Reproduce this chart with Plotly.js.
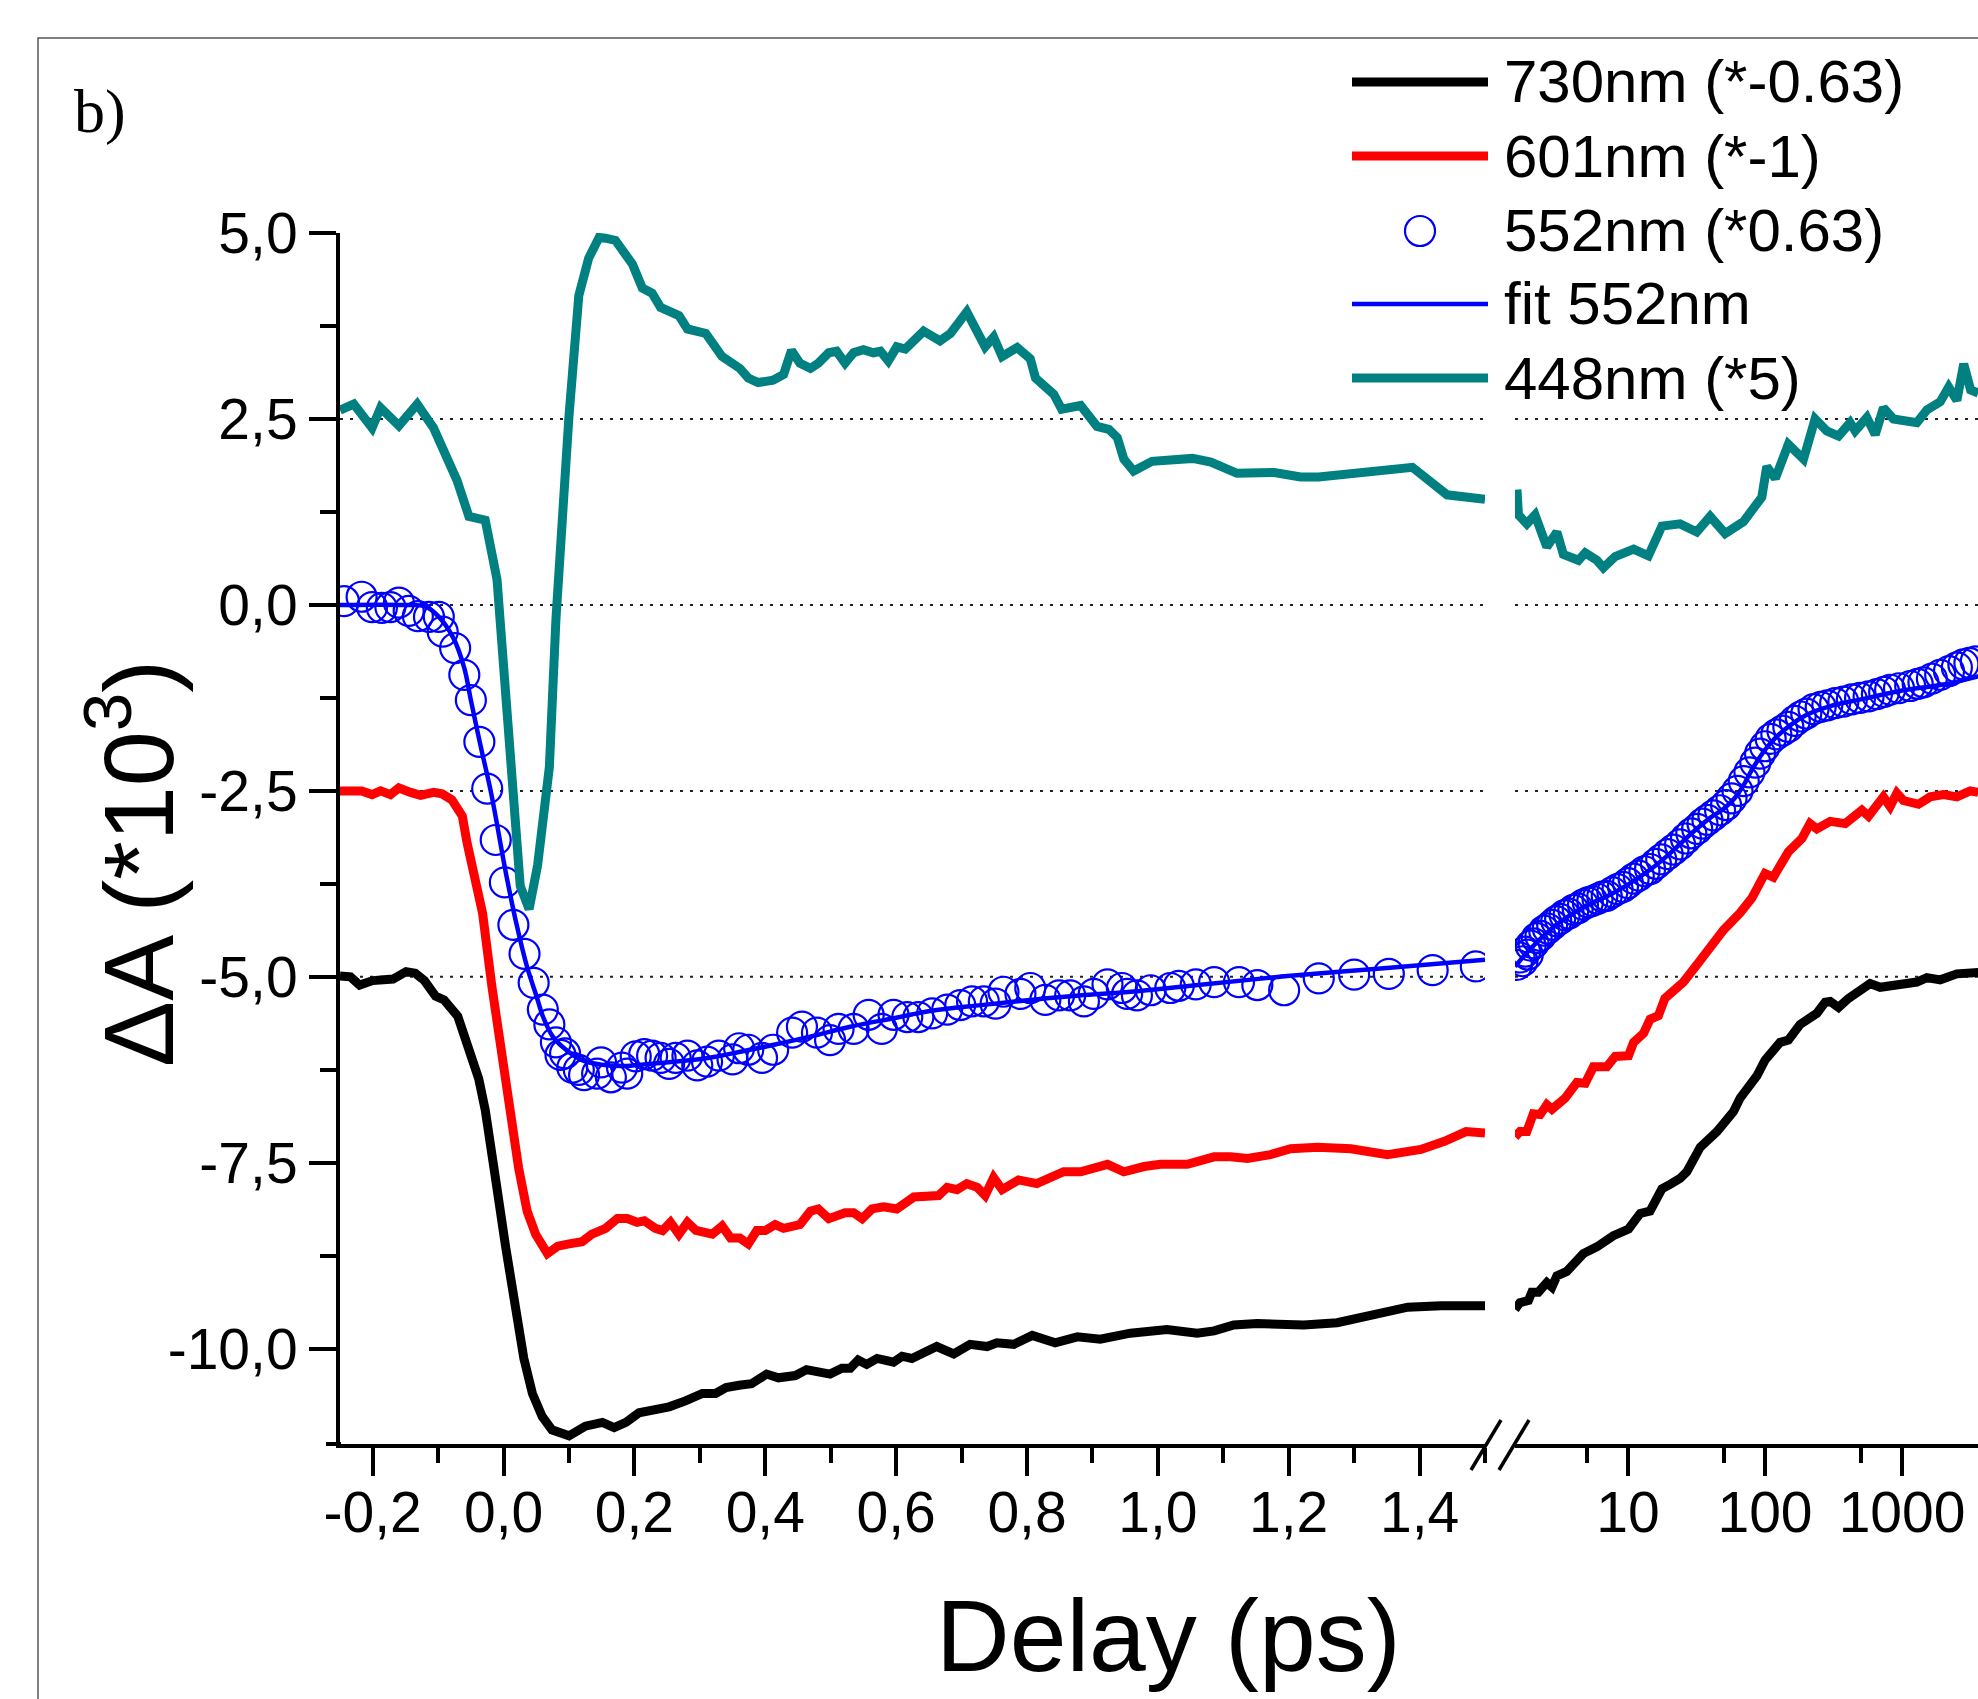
<!DOCTYPE html>
<html><head><meta charset="utf-8">
<script src="https://cdn.plot.ly/plotly-3.0.1.min.js"></script>
<style>html,body{margin:0;padding:0;overflow:hidden;background:#fff}</style>
</head><body><div id="chart" style="width:1978px;height:1699px"></div>
<script>
// ---------- data (delay in ps, dA*10^3) ----------
// 730nm (*-0.63)
const t730Lin = [-0.25,-0.234,-0.220,-0.200,-0.169,-0.149,-0.135,-0.121,-0.104,-0.091,-0.070,-0.058,-0.050,-0.038,-0.028,-0.019,-0.012,0.003,0.018,0.031,0.044,0.059,0.074,0.100,0.125,0.151,0.169,0.187,0.207,0.227,0.253,0.278,0.304,0.324,0.340,0.360,0.379,0.402,0.420,0.446,0.463,0.499,0.517,0.530,0.542,0.555,0.571,0.596,0.609,0.624,0.662,0.688,0.713,0.739,0.754,0.780,0.808,0.843,0.877,0.912,0.958,1.014,1.060,1.086,1.116,1.152,1.223,1.274,1.330,1.382,1.433,1.50];
const v730Lin = [-4.99,-5.00,-5.11,-5.05,-5.03,-4.93,-4.95,-5.05,-5.26,-5.31,-5.53,-5.85,-5.98,-6.37,-6.79,-7.25,-7.73,-8.62,-9.40,-10.13,-10.60,-10.91,-11.09,-11.17,-11.04,-10.99,-11.06,-10.99,-10.86,-10.83,-10.78,-10.70,-10.60,-10.60,-10.52,-10.49,-10.47,-10.34,-10.39,-10.36,-10.28,-10.34,-10.26,-10.26,-10.15,-10.21,-10.13,-10.18,-10.10,-10.13,-9.97,-10.07,-9.94,-9.97,-9.92,-9.94,-9.82,-9.92,-9.84,-9.87,-9.79,-9.74,-9.79,-9.76,-9.68,-9.66,-9.68,-9.65,-9.55,-9.44,-9.42,-9.42];
const t730Log = [1.50,1.63,1.88,1.99,2.22,2.56,2.79,3.03,3.58,4.73,5.93,7.83,10.1,12.3,14.5,17.7,20.3,24.0,26.9,33.7,44.6,52.7,58.9,65.9,87.3,100,112,129,148,180,239,275,299,344,406,585,692,818,1282,1517,1897,2512,3162,3597];
const v730Log = [-9.47,-9.38,-9.35,-9.24,-9.24,-9.11,-9.17,-9.02,-8.96,-8.72,-8.63,-8.48,-8.39,-8.18,-8.15,-7.85,-7.79,-7.71,-7.62,-7.29,-7.08,-6.93,-6.81,-6.63,-6.33,-6.12,-6.03,-5.88,-5.85,-5.64,-5.49,-5.34,-5.33,-5.41,-5.29,-5.09,-5.14,-5.12,-5.07,-5.01,-5.04,-4.96,-4.96,-4.94];

// 601nm (*-1)
const t601Lin = [-0.25,-0.217,-0.201,-0.188,-0.173,-0.160,-0.142,-0.127,-0.107,-0.094,-0.079,-0.063,-0.056,-0.043,-0.032,-0.018,-0.005,0.008,0.023,0.036,0.049,0.067,0.083,0.100,0.120,0.135,0.156,0.174,0.189,0.204,0.215,0.232,0.243,0.255,0.268,0.281,0.294,0.319,0.334,0.347,0.361,0.374,0.387,0.400,0.415,0.428,0.453,0.469,0.481,0.497,0.522,0.535,0.548,0.563,0.581,0.601,0.627,0.665,0.678,0.693,0.708,0.724,0.736,0.749,0.762,0.787,0.815,0.856,0.882,0.923,0.948,0.979,1.004,1.045,1.086,1.111,1.137,1.172,1.203,1.244,1.295,1.351,1.402,1.438,1.471,1.50];
const v601Lin = [-2.50,-2.50,-2.55,-2.50,-2.55,-2.46,-2.52,-2.56,-2.52,-2.54,-2.62,-2.84,-3.19,-3.72,-4.15,-5.12,-5.90,-6.79,-7.57,-8.15,-8.46,-8.72,-8.62,-8.59,-8.56,-8.46,-8.38,-8.25,-8.25,-8.30,-8.28,-8.38,-8.41,-8.30,-8.46,-8.30,-8.41,-8.46,-8.35,-8.51,-8.51,-8.59,-8.41,-8.41,-8.33,-8.38,-8.33,-8.15,-8.12,-8.25,-8.17,-8.17,-8.25,-8.12,-8.09,-8.12,-7.96,-7.94,-7.83,-7.86,-7.78,-7.83,-7.94,-7.70,-7.86,-7.73,-7.78,-7.62,-7.62,-7.52,-7.62,-7.55,-7.52,-7.52,-7.42,-7.42,-7.44,-7.39,-7.31,-7.29,-7.31,-7.39,-7.32,-7.21,-7.08,-7.10];
const t601Log = [1.50,1.63,1.83,2.04,2.29,2.56,2.79,3.48,4.24,4.88,5.60,7.01,8.07,10.1,11.0,13.0,14.5,16.7,18.6,25.4,32.7,49.8,65.9,80.2,100,115,148,186,213,239,299,385,509,569,731,818,916,1023,1318,1603,2004,2512,3141,3597];
const v601Log = [-7.15,-7.08,-7.08,-6.84,-6.85,-6.72,-6.78,-6.63,-6.42,-6.43,-6.21,-6.21,-6.07,-6.06,-5.88,-5.76,-5.57,-5.52,-5.29,-5.07,-4.81,-4.37,-4.14,-3.94,-3.61,-3.66,-3.32,-3.14,-2.94,-3.01,-2.91,-2.94,-2.76,-2.84,-2.58,-2.71,-2.53,-2.63,-2.68,-2.58,-2.55,-2.58,-2.50,-2.52];

// 552nm (*0.63) measured points
const t552Lin = [-0.244,-0.217,-0.201,-0.186,-0.173,-0.160,-0.145,-0.131,-0.114,-0.099,-0.093,-0.074,-0.060,-0.050,-0.037,-0.025,-0.012,0.002,0.015,0.032,0.046,0.060,0.070,0.080,0.087,0.094,0.105,0.115,0.123,0.143,0.149,0.164,0.181,0.189,0.202,0.215,0.227,0.240,0.253,0.263,0.281,0.296,0.311,0.329,0.350,0.360,0.374,0.395,0.412,0.441,0.456,0.479,0.499,0.512,0.535,0.558,0.578,0.596,0.617,0.634,0.655,0.678,0.698,0.716,0.734,0.752,0.764,0.790,0.805,0.828,0.849,0.866,0.887,0.902,0.923,0.945,0.953,0.968,0.989,1.019,1.032,1.058,1.086,1.124,1.152,1.193,1.246,1.300,1.353,1.420,1.486];
const v552Lin = [0.05,0.11,-0.03,-0.04,-0.03,0.03,-0.08,-0.15,-0.16,-0.16,-0.36,-0.58,-0.94,-1.28,-1.84,-2.47,-3.16,-3.73,-4.30,-4.69,-5.08,-5.44,-5.64,-5.88,-6.05,-6.03,-6.22,-6.25,-6.32,-6.30,-6.15,-6.35,-6.22,-6.30,-6.07,-6.04,-6.06,-6.09,-6.17,-6.09,-6.06,-6.19,-6.14,-6.06,-6.11,-5.96,-5.98,-6.09,-5.98,-5.75,-5.67,-5.75,-5.85,-5.70,-5.70,-5.51,-5.70,-5.51,-5.54,-5.54,-5.49,-5.44,-5.38,-5.33,-5.33,-5.36,-5.20,-5.23,-5.15,-5.31,-5.25,-5.25,-5.33,-5.23,-5.10,-5.15,-5.23,-5.25,-5.18,-5.15,-5.12,-5.10,-5.07,-5.07,-5.11,-5.18,-5.02,-4.97,-4.96,-4.91,-4.86];
const t552Log = [1.55,1.62,1.70,1.78,1.86,1.95,2.05,2.16,2.30,2.45,2.60,2.80,3.00,3.20,3.45,3.70,4.00,4.30,4.70,5.1,5.5,6.0,6.5,7.0,7.7,8.4,9.2,10.0,11.0,12.0,13.2,14.5,16.0,17.5,19.5,21.5,24,26.5,29,32,35,38,42,47,52,57,63,70,77,85,92,100,110,121,134,148,165,182,200,226,255,285,325,373,430,494,570,655,740,818,950,1146,1300,1432,1650,1897,2200,2512,2800,3100,3450];
const v552Log = [-4.84,-4.74,-4.79,-4.66,-4.70,-4.58,-4.55,-4.48,-4.45,-4.38,-4.35,-4.30,-4.25,-4.22,-4.17,-4.15,-4.10,-4.08,-4.03,-4.00,-3.98,-3.95,-3.92,-3.91,-3.86,-3.82,-3.79,-3.74,-3.68,-3.64,-3.58,-3.55,-3.48,-3.42,-3.35,-3.29,-3.22,-3.14,-3.07,-3.01,-2.94,-2.89,-2.83,-2.76,-2.69,-2.60,-2.50,-2.37,-2.25,-2.12,-2.00,-1.90,-1.80,-1.74,-1.69,-1.64,-1.56,-1.50,-1.46,-1.40,-1.37,-1.35,-1.32,-1.30,-1.27,-1.25,-1.23,-1.20,-1.17,-1.14,-1.12,-1.09,-1.06,-1.04,-0.99,-0.94,-0.89,-0.84,-0.80,-0.78,-0.76];

// fit 552nm
const tFitLin = [-0.25,-0.15,-0.12,-0.10,-0.077,-0.06,-0.05,-0.035,-0.019,0.005,0.02,0.036,0.05,0.06,0.075,0.094,0.12,0.149,0.18,0.21,0.26,0.312,0.36,0.415,0.47,0.53,0.60,0.652,0.73,0.805,0.88,0.958,1.05,1.198,1.35,1.5];
const vFitLin = [0,0,-0.02,-0.15,-0.44,-0.85,-1.28,-1.9,-2.53,-3.67,-4.3,-4.87,-5.25,-5.53,-5.8,-5.97,-6.12,-6.18,-6.2,-6.18,-6.14,-6.09,-6.01,-5.91,-5.8,-5.67,-5.55,-5.46,-5.38,-5.31,-5.25,-5.20,-5.12,-4.99,-4.88,-4.77];
const tFitLog = [1.5,2,3,5,7,10,15,20,30,40,50,60,70,80,100,120,150,200,300,500,1000,1290,2000,3597];
const vFitLog = [-4.86,-4.60,-4.30,-4.04,-3.92,-3.76,-3.54,-3.35,-3.05,-2.86,-2.74,-2.60,-2.42,-2.22,-1.95,-1.78,-1.63,-1.48,-1.36,-1.27,-1.15,-1.12,-1.07,-0.96];

// 448nm (*5)
const t448Lin = [-0.25,-0.229,-0.201,-0.188,-0.160,-0.132,-0.107,-0.071,-0.053,-0.028,-0.010,0.008,0.0255,0.039,0.052,0.070,0.080,0.0998,0.115,0.130,0.146,0.156,0.171,0.197,0.212,0.227,0.240,0.268,0.281,0.309,0.334,0.361,0.374,0.389,0.412,0.428,0.440,0.453,0.469,0.481,0.497,0.509,0.522,0.535,0.550,0.565,0.576,0.588,0.601,0.614,0.629,0.642,0.667,0.683,0.708,0.736,0.749,0.762,0.785,0.805,0.813,0.841,0.853,0.882,0.907,0.925,0.938,0.948,0.963,0.976,0.991,1.053,1.081,1.121,1.178,1.218,1.246,1.389,1.442,1.50];
const v448Lin = [2.62,2.70,2.38,2.65,2.41,2.70,2.38,1.67,1.19,1.14,0.34,-1.72,-3.78,-4.09,-3.5,-2.18,-0.2,2.52,4.16,4.66,4.94,4.93,4.90,4.58,4.26,4.19,4.0,3.89,3.71,3.65,3.34,3.18,3.05,2.99,3.02,3.10,3.42,3.25,3.18,3.25,3.39,3.41,3.25,3.39,3.43,3.39,3.41,3.28,3.47,3.44,3.55,3.68,3.55,3.65,3.94,3.47,3.60,3.34,3.46,3.31,3.05,2.83,2.63,2.68,2.40,2.36,2.25,1.96,1.80,1.85,1.93,1.97,1.92,1.77,1.78,1.72,1.72,1.85,1.48,1.42];
const t448Log = [1.55,1.59,1.83,2.10,2.56,3.03,3.38,4.36,4.88,5.93,6.62,8.07,11.0,14.1,17.7,24.0,31.8,39.8,51.2,69.7,94.8,103,119,148,191,232,282,344,418,455,553,637,731,865,1282,1517,1897,2188,2512,2818,3162,3597];
const v448Log = [1.55,1.21,1.09,1.21,0.78,0.98,0.68,0.60,0.70,0.60,0.50,0.65,0.75,0.66,1.06,1.09,0.98,1.19,0.96,1.12,1.45,1.86,1.70,2.16,1.96,2.50,2.34,2.27,2.45,2.34,2.52,2.29,2.65,2.50,2.45,2.62,2.73,2.93,2.75,3.24,2.89,2.85];

// axes ticks / labels
const yTickVals = [5, 2.5, 0, -2.5, -5, -7.5, -10];
const yTickText = ['5,0', '2,5', '0,0', '-2,5', '-5,0', '-7,5', '-10,0'];
const yMinorVals = [3.75, 1.25, -1.25, -3.75, -6.25, -8.75];
const xTickVals = [-0.2, 0, 0.2, 0.4, 0.6, 0.8, 1.0, 1.2, 1.4];
const xTickText = ['-0,2', '0,0', '0,2', '0,4', '0,6', '0,8', '1,0', '1,2', '1,4'];
const xMinorVals = [-0.1, 0.1, 0.3, 0.5, 0.7, 0.9, 1.1, 1.3, 1.5];
const x2TickVals = [10, 100, 1000];
const x2TickText = ['10', '100', '1000'];
const x2MinorVals = [5, 50, 500];
const refLines = [2.5, 0, -2.5, -5];

const legendNames = ['730nm (*-0.63)', '601nm (*-1)', '552nm (*0.63)', 'fit 552nm', '448nm (*5)'];

// ---------- style ----------
const W = 1978, H = 1699;
const px = v => v / W;
const py = v => 1 - v / H;
const FONT = 'Liberation Sans, Arial, Helvetica, sans-serif';
const cBlack = '#000000', cRed = '#ff0000', cBlue = '#0000ff', cTeal = '#008080';
const LW = 9;

function lineTrace(x, y, color, width, xa, shape) {
  return {x: x, y: y, xaxis: xa, yaxis: 'y', type: 'scatter', mode: 'lines',
          line: {color: color, width: width, shape: shape || 'linear', smoothing: 1}, showlegend: false, hoverinfo: 'skip'};
}
function circTrace(x, y, xa) {
  return {x: x, y: y, xaxis: xa, yaxis: 'y', type: 'scatter', mode: 'markers',
          marker: {symbol: 'circle-open', size: 30, color: cBlue, line: {color: cBlue, width: 2.2}},
          showlegend: false, hoverinfo: 'skip'};
}

const data = [
  circTrace(t552Lin, v552Lin, 'x'),
  circTrace(t552Log, v552Log, 'x2'),
  lineTrace(t730Lin, v730Lin, cBlack, LW, 'x'),
  lineTrace(t730Log, v730Log, cBlack, LW, 'x2'),
  lineTrace(t601Lin, v601Lin, cRed, LW, 'x'),
  lineTrace(t601Log, v601Log, cRed, LW, 'x2'),
  lineTrace(tFitLin, vFitLin, cBlue, 4.5, 'x', 'spline'),
  lineTrace(tFitLog, vFitLog, cBlue, 4.5, 'x2', 'spline'),
  lineTrace(t448Lin, v448Lin, cTeal, LW, 'x'),
  lineTrace(t448Log, v448Log, cTeal, LW, 'x2')
];

const shapes = [];
// outer frame
shapes.push({type: 'rect', xref: 'paper', yref: 'paper', x0: px(38), x1: 1.05, y0: -0.05, y1: py(38),
             line: {color: '#555', width: 1.5}, fillcolor: 'rgba(0,0,0,0)', layer: 'below'});
// dotted reference lines
refLines.forEach(v => {
  ['x domain', 'x2 domain'].forEach(xr => {
    shapes.push({type: 'line', xref: xr, yref: 'y', x0: 0, x1: 1, y0: v, y1: v,
                 line: {color: '#222', width: 2, dash: '3px,7px'}, layer: 'below'});
  });
});
// axis break marks
shapes.push({type: 'line', xref: 'paper', yref: 'paper', x0: px(1471), y0: py(1470), x1: px(1501), y1: py(1420), line: {color: '#000', width: 3.5}});
shapes.push({type: 'line', xref: 'paper', yref: 'paper', x0: px(1499), y0: py(1470), x1: px(1529), y1: py(1420), line: {color: '#000', width: 3.5}});
// small axis stub left of y axis
shapes.push({type: 'line', xref: 'paper', yref: 'paper', x0: px(326), y0: py(1444), x1: px(341), y1: py(1444), line: {color: '#000', width: 4}});

// legend samples
const legRowY = [82, 156, 231, 304, 378];
shapes.push({type: 'line', xref: 'paper', yref: 'paper', x0: px(1352), x1: px(1488), y0: py(legRowY[0]), y1: py(legRowY[0]), line: {color: cBlack, width: 9}});
shapes.push({type: 'line', xref: 'paper', yref: 'paper', x0: px(1352), x1: px(1488), y0: py(legRowY[1]), y1: py(legRowY[1]), line: {color: cRed, width: 9}});
shapes.push({type: 'circle', xref: 'paper', yref: 'paper', x0: px(1420 - 15), x1: px(1420 + 15), y0: py(legRowY[2] + 15), y1: py(legRowY[2] - 15), line: {color: cBlue, width: 2.2}});
shapes.push({type: 'line', xref: 'paper', yref: 'paper', x0: px(1352), x1: px(1488), y0: py(legRowY[3]), y1: py(legRowY[3]), line: {color: cBlue, width: 4.5}});
shapes.push({type: 'line', xref: 'paper', yref: 'paper', x0: px(1352), x1: px(1488), y0: py(legRowY[4]), y1: py(legRowY[4]), line: {color: cTeal, width: 9}});

const annotations = legendNames.map((n, i) => ({
  text: n, xref: 'paper', yref: 'paper', x: px(1502), y: py(legRowY[i]), xanchor: 'left', yanchor: 'middle',
  showarrow: false, font: {family: FONT, size: 60, color: '#000'}
}));
annotations.push({text: 'b)', xref: 'paper', yref: 'paper', x: px(72), y: py(112), xanchor: 'left', yanchor: 'middle',
  showarrow: false, font: {family: 'Liberation Serif, Times New Roman, serif', size: 62, color: '#000'}});
annotations.push({text: 'Delay (ps)', xref: 'paper', yref: 'paper', x: px(1168), y: py(1636), xanchor: 'center', yanchor: 'middle',
  showarrow: false, font: {family: FONT, size: 102, color: '#000'}});
annotations.push({text: 'ΔA (*10<sup>3</sup>)', xref: 'paper', yref: 'paper', x: px(131), y: py(864), xanchor: 'center', yanchor: 'middle',
  textangle: -90, showarrow: false, font: {family: FONT, size: 99, color: '#000'}});

const tickFont = {family: FONT, size: 57, color: '#000'};
const layout = {
  width: W, height: H, margin: {l: 0, r: 0, t: 0, b: 0, pad: 0},
  paper_bgcolor: '#fff', plot_bgcolor: 'rgba(0,0,0,0)', showlegend: false,
  font: {family: FONT, color: '#000'},
  xaxis: {domain: [px(340), px(1485)], range: [-0.25, 1.5], anchor: 'y',
          tickmode: 'array', tickvals: xTickVals, ticktext: xTickText, tickfont: tickFont, ticklabelstandoff: -12,
          ticks: 'outside', ticklen: 28, tickwidth: 4, tickcolor: '#000',
          showline: true, linewidth: 4, linecolor: '#000', showgrid: false, zeroline: false,
          minor: {tickmode: 'array', tickvals: xMinorVals, ticks: 'outside', ticklen: 15, tickwidth: 4, tickcolor: '#000', showgrid: false}},
  xaxis2: {type: 'log', domain: [px(1515), 1], range: [Math.log10(1.5), 3.554], anchor: 'y',
          tickmode: 'array', tickvals: x2TickVals, ticktext: x2TickText, tickfont: tickFont, ticklabelstandoff: -12,
          ticks: 'outside', ticklen: 28, tickwidth: 4, tickcolor: '#000',
          showline: true, linewidth: 4, linecolor: '#000', showgrid: false, zeroline: false,
          minor: {tickmode: 'array', tickvals: x2MinorVals, ticks: 'outside', ticklen: 15, tickwidth: 4, tickcolor: '#000', showgrid: false}},
  yaxis: {domain: [1 - 1444 / H, 1 - 233 / H], range: [-11.28, 5.0], anchor: 'x',
          tickmode: 'array', tickvals: yTickVals, ticktext: yTickText, tickfont: tickFont,
          ticks: 'outside', ticklen: 27, tickwidth: 4, tickcolor: '#000',
          showline: true, linewidth: 4, linecolor: '#000', showgrid: false, zeroline: false,
          minor: {tickmode: 'array', tickvals: yMinorVals, ticks: 'outside', ticklen: 16, tickwidth: 4, tickcolor: '#000', showgrid: false}},
  shapes: shapes, annotations: annotations
};

Plotly.newPlot('chart', data, layout, {displayModeBar: false, staticPlot: true});
</script></body></html>
